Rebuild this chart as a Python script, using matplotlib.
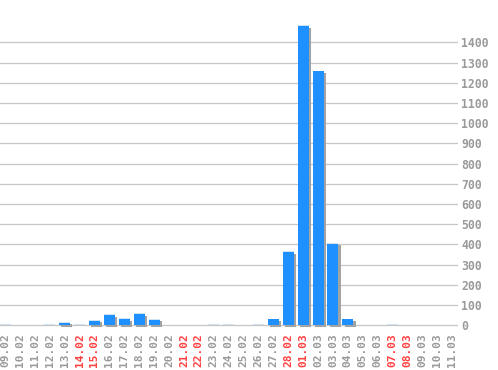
import matplotlib
matplotlib.use("Agg")
import matplotlib.pyplot as plt
import numpy as np

# dates shown on the x axis (weekends in red)
dates = ["09.02", "10.02", "11.02", "12.02", "13.02", "14.02", "15.02",
         "16.02", "17.02", "18.02", "19.02", "20.02", "21.02", "22.02",
         "23.02", "24.02", "25.02", "26.02", "27.02", "28.02", "01.03",
         "02.03", "03.03", "04.03", "05.03", "06.03", "07.03", "08.03",
         "09.03", "10.03", "11.03"]
values = [2, 0, 0, 2, 13, 3, 23, 51, 32, 56, 28, 0, 0, 0,
          3, 3, 0, 2, 29, 363, 1480, 1257, 404, 29, 0, 0, 2, 0,
          0, 0, 0]
weekend = ["14.02", "15.02", "21.02", "22.02", "28.02", "01.03",
           "07.03", "08.03"]
yticks = list(range(0, 1401, 100))

blue = "#1e90ff"
shadow = "#a3a3a3"
grey_txt = "#9a9a9a"
red_txt = "#ff4040"

fig = plt.figure(figsize=(4.98, 3.70), dpi=100)
ax = fig.add_axes([0.0, 0.1099, 0.92, 0.8901])

x = np.arange(len(dates))
vals = np.array(values, dtype=float)
w = 0.74
dx = 0.15   # ~2 px shadow offset
dy = 9      # ~2 px in data units

ax.set_xlim(-0.34, 30.4)
ax.set_ylim(-20, 1610)

for t in yticks:
    ax.axhline(t, color="#c6c6c6", lw=0.9, zorder=0)

# shadow behind bars
ax.bar(x + dx, vals, width=w, bottom=-dy, color=shadow, zorder=1,
       linewidth=0)
# main bars
ax.bar(x, vals, width=w, color=blue, zorder=2, linewidth=0)
# light rim on top of each bar
nz = vals > 0
ax.bar(x[nz], np.full(nz.sum(), 4.0), width=w, bottom=vals[nz],
       color="#cfe3f7", zorder=2, linewidth=0)

ax.yaxis.tick_right()
ax.set_yticks(yticks)
ax.set_yticklabels([str(t) for t in yticks], family="DejaVu Sans Mono",
                   fontsize=8.3, fontweight="bold", color=grey_txt)
ax.tick_params(axis="y", length=0, pad=2)

ax.set_xticks(x)
ax.set_xticklabels(dates, rotation=90, family="DejaVu Sans Mono",
                   fontsize=8.0, fontweight="bold", va="top", ha="center")
for lbl, d in zip(ax.get_xticklabels(), dates):
    lbl.set_color(red_txt if d in weekend else grey_txt)
ax.tick_params(axis="x", length=0, pad=2.5)

for s in ax.spines.values():
    s.set_visible(False)

fig.savefig("out.png", dpi=100)
